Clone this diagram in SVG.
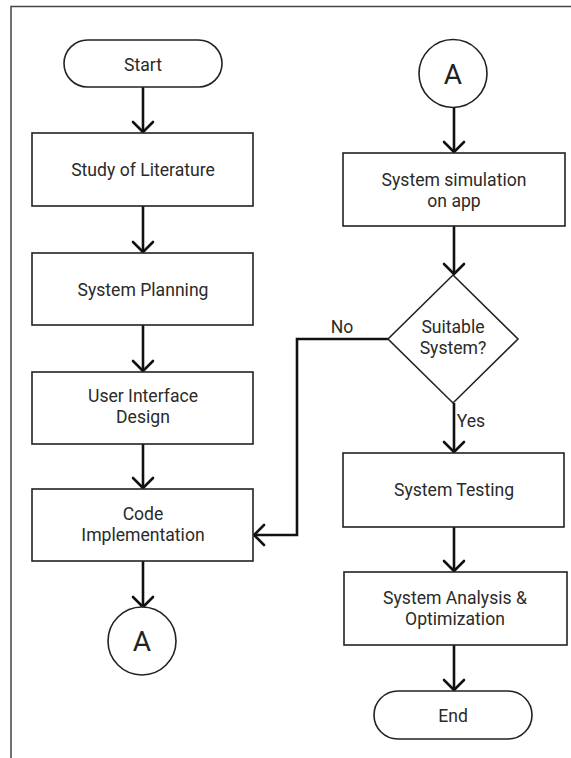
<svg xmlns="http://www.w3.org/2000/svg" width="571" height="758" viewBox="0 0 571 758">
<style>
.shape{fill:#fff;stroke:#222;stroke-width:1.6}
.t{font-family:Roboto,"Liberation Sans",sans-serif;font-size:17.6px;fill:#2a2a2a;text-anchor:middle}
.big{font-family:Roboto,"Liberation Sans",sans-serif;font-size:28px;fill:#222;text-anchor:middle}
.c{fill:none;stroke:#111;stroke-width:2.6}
</style>
<defs>
<marker id="ah" markerUnits="userSpaceOnUse" viewBox="-12 -12 24 24" markerWidth="24" markerHeight="24" refX="0" refY="0" orient="auto">
<path d="M-10,-10 L0,0 L-10,10" fill="none" stroke="#111" stroke-width="2.6" stroke-linejoin="round" stroke-linecap="round"/>
</marker>
</defs>
<rect width="571" height="758" fill="#fff"/>
<path d="M11,758 V6.5 H571" fill="none" stroke="#444" stroke-width="1.5"/>
<g id="connectors">
<line class="c" x1="143" y1="87" x2="143" y2="132" marker-end="url(#ah)"/>
<line class="c" x1="143" y1="206" x2="143" y2="252" marker-end="url(#ah)"/>
<line class="c" x1="143" y1="325" x2="143" y2="371" marker-end="url(#ah)"/>
<line class="c" x1="143" y1="444" x2="143" y2="488" marker-end="url(#ah)"/>
<line class="c" x1="143" y1="561" x2="143" y2="607" marker-end="url(#ah)"/>
<line class="c" x1="454" y1="107" x2="454" y2="152" marker-end="url(#ah)"/>
<line class="c" x1="454" y1="226" x2="454" y2="274" marker-end="url(#ah)"/>
<line class="c" x1="454" y1="403" x2="454" y2="452" marker-end="url(#ah)"/>
<line class="c" x1="454" y1="527" x2="454" y2="571" marker-end="url(#ah)"/>
<line class="c" x1="454" y1="645" x2="454" y2="690" marker-end="url(#ah)"/>
<polyline class="c" points="388,339 297,339 297,535 254,535" marker-end="url(#ah)"/>
<text class="t" x="342" y="333">No</text>
<text class="t" x="471" y="427">Yes</text>
</g>
<g id="start"><rect class="shape" x="64" y="40" width="158" height="47" rx="23.5"/><text class="t" x="143" y="71">Start</text></g>
<g id="study"><rect class="shape" x="32" y="133" width="221" height="73"/><text class="t" x="143" y="176">Study of Literature</text></g>
<g id="planning"><rect class="shape" x="32" y="253" width="221" height="72"/><text class="t" x="143" y="296">System Planning</text></g>
<g id="ui"><rect class="shape" x="32" y="372" width="221" height="72"/><text class="t" x="143" y="402">User Interface</text><text class="t" x="143" y="423">Design</text></g>
<g id="code"><rect class="shape" x="32" y="489" width="221" height="72"/><text class="t" x="143" y="520">Code</text><text class="t" x="143" y="541">Implementation</text></g>
<g id="connA1"><circle class="shape" cx="142" cy="641" r="34"/><text class="big" x="142" y="651">A</text></g>
<g id="connA2"><circle class="shape" cx="453" cy="73.5" r="34"/><text class="big" x="453" y="83.5">A</text></g>
<g id="simulation"><rect class="shape" x="343" y="153" width="222" height="73"/><text class="t" x="454" y="186">System simulation</text><text class="t" x="454" y="207">on app</text></g>
<g id="decision"><polygon class="shape" points="453,275 518,339 453,403 388,339"/><text class="t" x="453" y="333">Suitable</text><text class="t" x="453" y="354">System?</text></g>
<g id="testing"><rect class="shape" x="343" y="453" width="221" height="74"/><text class="t" x="454" y="496">System Testing</text></g>
<g id="analysis"><rect class="shape" x="344" y="572" width="223" height="73"/><text class="t" x="455" y="604">System Analysis &amp;</text><text class="t" x="455" y="625">Optimization</text></g>
<g id="end"><rect class="shape" x="374" y="691" width="158" height="48" rx="24"/><text class="t" x="453" y="722">End</text></g>
</svg>
